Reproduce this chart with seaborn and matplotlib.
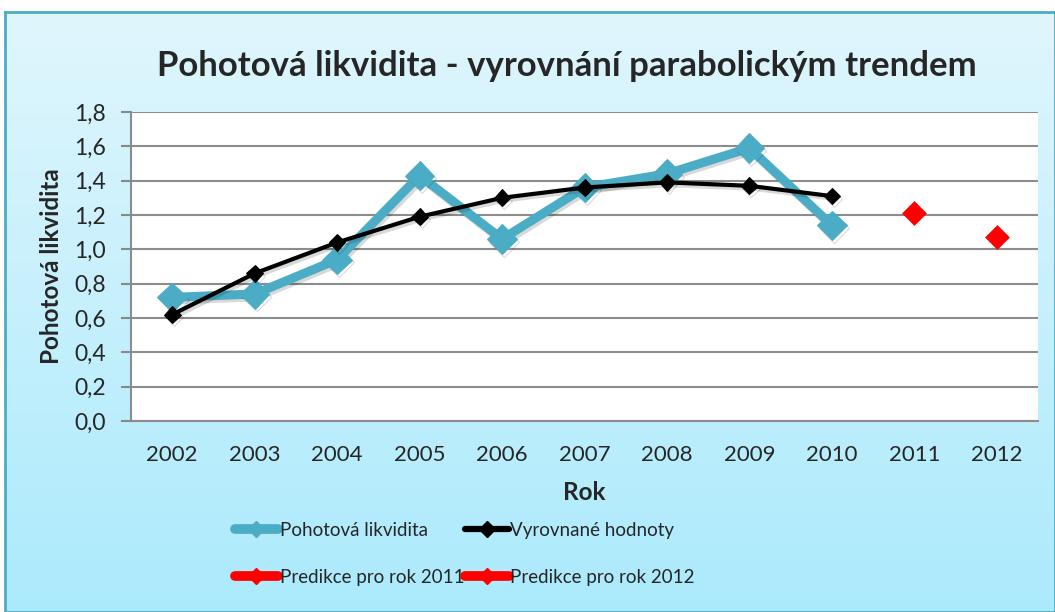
import numpy as np
import pandas as pd
import matplotlib
matplotlib.use("Agg")
import matplotlib.pyplot as plt
import matplotlib.patheffects as pe
from matplotlib.lines import Line2D
from matplotlib.colors import LinearSegmentedColormap
import seaborn as sns

years = [2002, 2003, 2004, 2005, 2006, 2007, 2008, 2009, 2010]
likvidita = [0.72, 0.74, 0.94, 1.43, 1.06, 1.36, 1.44, 1.59, 1.14]
vyrovnane = [0.62, 0.86, 1.04, 1.19, 1.30, 1.36, 1.39, 1.37, 1.31]
pred_years = [2011, 2012]
predikce = [1.21, 1.07]
all_years = [2002, 2003, 2004, 2005, 2006, 2007, 2008, 2009, 2010, 2011, 2012]
y_ticks = [0.0, 0.2, 0.4, 0.6, 0.8, 1.0, 1.2, 1.4, 1.6, 1.8]

sns.set_style("white")
plt.rcParams['font.family'] = ['Lato', 'DejaVu Sans']

fig = plt.figure(figsize=(10.55, 6.12), dpi=100)
fig.patch.set_facecolor("white")

# background gradient box
bg = fig.add_axes([5/1055, 0, 1 - 5/1055, 1 - 12/612])
grad = np.linspace(0, 1, 256).reshape(-1, 1)
cmap = LinearSegmentedColormap.from_list("bg", ["#E0F6FD", "#ABEAFC"])
bg.imshow(grad, aspect="auto", cmap=cmap, extent=[0, 1, 0, 1], origin="upper")
bg.set_xticks([]); bg.set_yticks([])
for s in bg.spines.values():
    s.set_color("#4BACC6"); s.set_linewidth(2)
bg.set_zorder(0)

ax = fig.add_axes([131/1055, 1 - 421/612, (1038 - 131)/1055, (421 - 112)/612])
ax.set_facecolor("white")
ax.set_zorder(1)

df1 = pd.DataFrame({"Rok": years, "v": likvidita})
df2 = pd.DataFrame({"Rok": years, "v": vyrovnane})
df3 = pd.DataFrame({"Rok": pred_years, "v": predikce})

shadow = [pe.SimpleLineShadow(offset=(1.5, -2), alpha=0.15, shadow_color="black"), pe.Normal()]

sns.lineplot(data=df1, x="Rok", y="v", ax=ax, color="#4BACC6", linewidth=6.5,
             marker="D", markersize=15, markeredgecolor="#4BACC6", zorder=3,
             path_effects=shadow)
sns.lineplot(data=df2, x="Rok", y="v", ax=ax, color="black", linewidth=3,
             marker="D", markersize=8.5, markeredgecolor="black", zorder=4,
             path_effects=shadow)
sns.scatterplot(data=df3, x="Rok", y="v", ax=ax, color="red", marker="D",
                s=160, edgecolor="red", linewidth=0, zorder=4)

ax.set_xlim(2001.5, 2012.5)
ax.set_ylim(0, 1.8)
ax.set_yticks(y_ticks)
ax.set_yticklabels([f"{t:.1f}".replace(".", ",") for t in y_ticks])
ax.set_xticks(all_years)
ax.set_xticklabels([str(y) for y in all_years])
ax.set_xticks(np.arange(2001.5, 2013.0, 1.0), minor=True)
ax.tick_params(axis="x", which="major", length=0, pad=17, labelsize=16)
ax.tick_params(axis="x", which="minor", length=7, width=1.5, color="#888888", direction="out")
ax.tick_params(axis="y", length=7, width=1.5, color="#888888", direction="out", pad=11, labelsize=16.5, left=True)
ax.grid(axis="y", color="#8C8C8C", linewidth=1.5)
ax.grid(axis="x", visible=False)
for s in ["top", "right"]:
    ax.spines[s].set_visible(False)
for s in ["left", "bottom"]:
    ax.spines[s].set_color("#8C8C8C"); ax.spines[s].set_linewidth(1.5)

ax.set_xlabel("Rok", fontsize=17.5, fontweight="bold", labelpad=12)
ax.set_ylabel("Pohotová likvidita", fontsize=17.5, fontweight="bold", labelpad=8)

fig.text(0.537, 1 - 66/612, "Pohotová likvidita - vyrovnání parabolickým trendem",
         ha="center", va="center", fontsize=25, fontweight="bold")

handles = [
    Line2D([], [], color="#4BACC6", lw=7, marker="D", ms=8),
    Line2D([], [], color="red", lw=7, marker="D", ms=8),
    Line2D([], [], color="black", lw=4.5, marker="D", ms=8),
    Line2D([], [], color="red", lw=7, marker="D", ms=8),
]
labels = ["Pohotová likvidita", "Predikce pro rok 2011", "Vyrovnané hodnoty", "Predikce pro rok 2012"]
leg = fig.legend(handles, labels, ncol=2, loc="center left", bbox_to_anchor=(218/1055, 1 - 554/612),
                 frameon=False, fontsize=13.5, handlelength=2.3, handletextpad=0.1,
                 columnspacing=0.05, labelspacing=1.6)

fig.savefig("out.png", dpi=100)
